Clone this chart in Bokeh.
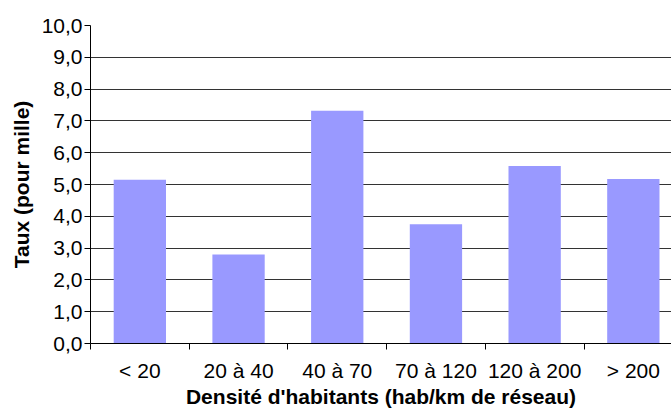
from bokeh.plotting import figure
from bokeh.models import Range1d, FixedTicker, CustomJSTickFormatter, ColumnDataSource
from bokeh.embed import file_html
from bokeh.resources import INLINE

categories = ["< 20", "20 à 40", "40 à 70", "70 à 120", "120 à 200", "> 200"]
values = [5.15, 2.80, 7.32, 3.75, 5.58, 5.17]
y_ticks = [0, 1, 2, 3, 4, 5, 6, 7, 8, 9, 10]
x_title = "Densité d'habitants (hab/km de réseau)"
y_title = "Taux (pour mille)"

FONT = "Liberation Sans"
FS = "21px"
W, H = 671, 411
BORDER_LEFT, BORDER_TOP, BORDER_BOTTOM = 90, 25, 68
CAT_PX = 98.7
Y_MAX = 10

n = len(categories)
centers = [i + 0.5 for i in range(n)]
boundaries = list(range(n + 1))
x_end = (W - BORDER_LEFT) / CAT_PX

p = figure(width=W, height=H, output_backend="svg", toolbar_location=None,
           x_range=Range1d(0, x_end), y_range=Range1d(0, Y_MAX),
           min_border_left=BORDER_LEFT, min_border_right=0, min_border_top=BORDER_TOP,
           min_border_bottom=BORDER_BOTTOM)
p.outline_line_color = None
p.background_fill_color = "white"
p.border_fill_color = "white"

src = ColumnDataSource(dict(x=centers, top=values))
p.vbar(x="x", top="top", width=0.53, bottom=0, source=src,
       fill_color="#9999FF", line_color=None)

# x axis
xa = p.xaxis[0]
xa.ticker = FixedTicker(ticks=centers, minor_ticks=boundaries)
xa.major_label_overrides = {c: lab for c, lab in zip(centers, categories)}
xa.major_tick_out = 6
xa.major_tick_in = 0
xa.major_tick_line_color = None
xa.minor_tick_out = 6
xa.minor_tick_in = 0
xa.minor_tick_line_color = "black"
xa.axis_line_color = "black"
xa.major_label_text_font = FONT
xa.major_label_text_font_size = FS
xa.major_label_text_color = "black"
xa.major_label_standoff = 9
xa.axis_label = x_title
xa.axis_label_text_font = FONT
xa.axis_label_text_font_style = "bold"
xa.axis_label_text_font_size = FS
xa.axis_label_text_color = "black"
xa.axis_label_standoff = 0

# y axis
ya = p.yaxis[0]
ya.ticker = FixedTicker(ticks=y_ticks)
ya.formatter = CustomJSTickFormatter(code="return tick.toFixed(1).replace('.', ',');")
ya.major_tick_out = 6
ya.major_tick_in = 0
ya.minor_tick_line_color = None
ya.axis_line_color = "black"
ya.major_tick_line_color = "black"
ya.major_label_text_font = FONT
ya.major_label_text_font_size = FS
ya.major_label_text_color = "black"
ya.major_label_standoff = 2
ya.axis_label = y_title
ya.axis_label_text_font = FONT
ya.axis_label_text_font_style = "bold"
ya.axis_label_text_font_size = FS
ya.axis_label_text_color = "black"
ya.axis_label_standoff = 6

p.xgrid.grid_line_color = None
p.ygrid.ticker = FixedTicker(ticks=y_ticks)
p.ygrid.grid_line_color = "#333333"
p.ygrid.grid_line_width = 1

open("out.html", "w").write(file_html(p, INLINE))
